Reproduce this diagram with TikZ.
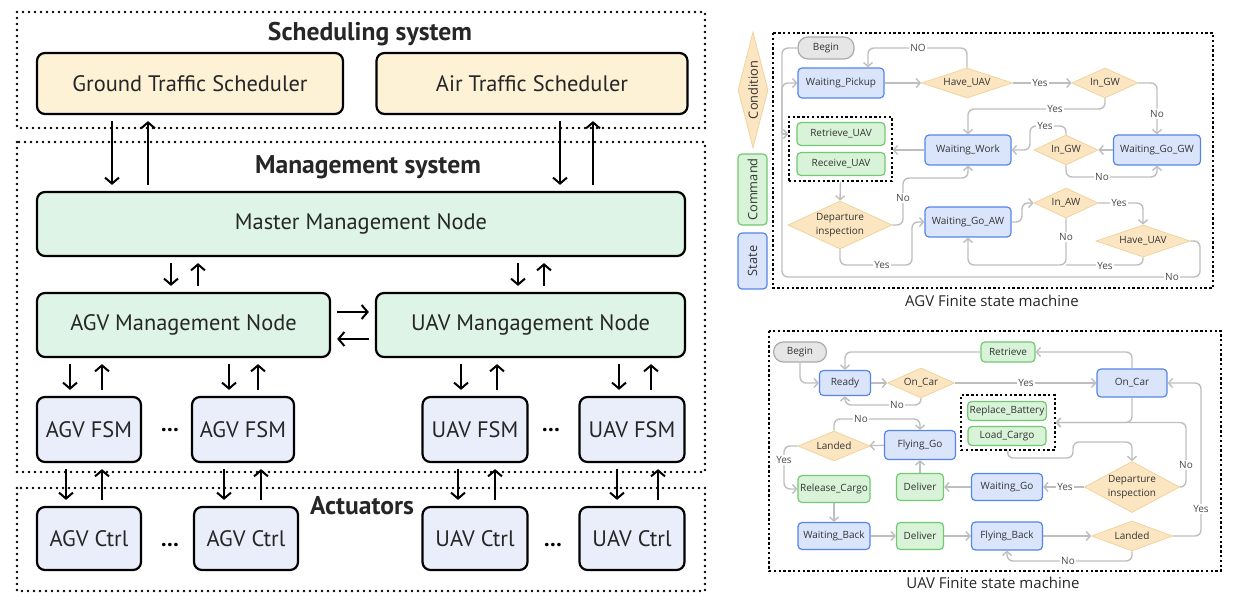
\documentclass[tikz,border=0pt]{standalone}
\usepackage{fontspec}
\setmainfont{PT Sans}
\newfontfamily\fsmfont{Open Sans}
\usetikzlibrary{
    arrows.meta,        % arrow tips
    shapes.geometric    % diamonds of the conditions
}
\newcommand{\boxfont}{\fontsize{11.2}{13}\selectfont}
\newcommand{\titlefont}{\bfseries\fontsize{12.8}{14}\selectfont}
\newcommand{\fsmtext}{\fsmfont\fontsize{5}{7}\selectfont}

\definecolor{schedfill}{HTML}{FDF1D6}
\definecolor{mgmtfill}{HTML}{DDF4E6}
\definecolor{unitfill}{HTML}{EAEEFB}
\definecolor{statefill}{HTML}{DAE5FC}
\definecolor{stateline}{HTML}{5585E8}
\definecolor{cmdfill}{HTML}{D8F3D8}
\definecolor{cmdline}{HTML}{71C971}
\definecolor{condfill}{HTML}{FCE6C2}
\definecolor{condline}{HTML}{F0D39E}
\definecolor{begfill}{HTML}{E6E6E6}
\definecolor{begline}{HTML}{ABABAB}
\definecolor{flowgray}{HTML}{BEBEBE}
\definecolor{labelgray}{HTML}{4A4A4A}

\tikzset{
    layer frame/.style={line width=1.4pt, line cap=round, dash pattern=on 0pt off 3pt},
    layer title/.style={font=\titlefont, text=black!85, inner sep=1pt},
    sched box/.style={draw, line width=1.1pt, rounded corners=4pt, fill=schedfill, font=\boxfont, text=black!85},
    mgmt box/.style={sched box, fill=mgmtfill},
    unit box/.style={sched box, fill=unitfill},
    dots/.style={font=\boxfont\bfseries, inner sep=0pt},
    bus arrow/.style={line width=1pt, -{Straight Barb[length=3pt,width=7pt]}, shorten <=3pt, shorten >=3pt},
    fsm state/.style={draw=stateline, fill=statefill, line width=0.6pt, rounded corners=2pt, inner sep=1pt, font=\fsmtext, text=black!80},
    fsm command/.style={fsm state, draw=cmdline, fill=cmdfill},
    fsm begin/.style={fsm state, draw=begline, fill=begfill, rounded corners=5pt},
    fsm condition/.style={diamond, aspect=3, draw=condline, fill=condfill, line width=0.4pt, inner sep=0pt, font=\fsmtext, text=black!80, align=center},
    fsm legend/.style={rotate=90, inner sep=0pt, font=\fsmfont\fontsize{6.4}{7}\selectfont},
    cmd group/.style={draw, line width=0.7pt, dash pattern=on 1.2pt off 1.2pt},
    fsm frame/.style={line width=0.6pt, dash pattern=on 1.2pt off 1.2pt},
    fsm caption/.style={font=\fsmfont\fontsize{7.5}{9}\selectfont, text=black!85},
    flow/.style={draw=flowgray, line width=0.7pt, rounded corners=3pt, -{Straight Barb[length=2pt,width=4.5pt]}},
    flow line/.style={flow, -},
    flow label/.style={fill=white, inner sep=0.8pt, font=\fsmtext, text=labelgray}
}

\begin{document}
\begin{tikzpicture}[x=0.5pt, y=-0.5pt]
    \useasboundingbox (0,0) rectangle (1236,608);

    % ---------------- system layers ----------------
    \draw[layer frame] (17,12) rectangle (705,128);
    \draw[layer frame] (17,142) rectangle (705,472);
    \draw[layer frame] (17,488) rectangle (705,591);
    \node[layer title] (tsched) at (370,34) {Scheduling system};
    \node[layer title] (tmgmt) at (368,167) {Management system};
    \node[layer title] (tact) at (362,506) {Actuators};

    \node[sched box, minimum width=153pt, minimum height=30.5pt] (gts) at (190,83.5) {Ground Traffic Scheduler};
    \node[sched box, minimum width=155.5pt, minimum height=30.5pt] (ats) at (532,83.5) {Air Traffic Scheduler};
    \node[mgmt box, minimum width=324pt, minimum height=32pt] (mmn) at (361,224) {Master Management Node};
    \node[mgmt box, minimum width=146.5pt, minimum height=32pt] (agvm) at (183.5,325) {AGV Management Node};
    \node[mgmt box, minimum width=154.5pt, minimum height=32pt] (uavm) at (530.5,325) {UAV Mangagement Node};

    \node[unit box, minimum width=52pt, minimum height=32.5pt] (afsm1) at (89,429.5) {AGV FSM};
    \node[unit box, minimum width=51pt, minimum height=32.5pt] (afsm2) at (243,429.5) {AGV FSM};
    \node[unit box, minimum width=52.5pt, minimum height=32.5pt] (ufsm1) at (475,429.5) {UAV FSM};
    \node[unit box, minimum width=52.5pt, minimum height=32.5pt] (ufsm2) at (632,429.5) {UAV FSM};
    \node[unit box, minimum width=52pt, minimum height=31.5pt] (actl1) at (89,538.5) {AGV Ctrl};
    \node[unit box, minimum width=52pt, minimum height=31.5pt] (actl2) at (246,538.5) {AGV Ctrl};
    \node[unit box, minimum width=52.5pt, minimum height=31.5pt] (uctl1) at (475,538.5) {UAV Ctrl};
    \node[unit box, minimum width=52.5pt, minimum height=31.5pt] (uctl2) at (632,538.5) {UAV Ctrl};
    \node[dots] (dfsmA) at (170,430) {…};
    \node[dots] (dfsmU) at (551,430) {…};
    \node[dots] (dctlA) at (170,545) {…};
    \node[dots] (dctlU) at (553,545) {…};

    \draw[bus arrow] (gts.south -| 112,0) -- (mmn.north -| 112,0);
    \draw[bus arrow] (mmn.north -| 148,0) -- (gts.south -| 148,0);
    \draw[bus arrow] (ats.south -| 560,0) -- (mmn.north -| 560,0);
    \draw[bus arrow] (mmn.north -| 593,0) -- (ats.south -| 593,0);

    \draw[bus arrow] (mmn.south -| 171,0) -- (agvm.north -| 171,0);
    \draw[bus arrow] (agvm.north -| 198,0) -- (mmn.south -| 198,0);
    \draw[bus arrow] (mmn.south -| 518,0) -- (uavm.north -| 518,0);
    \draw[bus arrow] (uavm.north -| 544,0) -- (mmn.south -| 544,0);

    \draw[bus arrow] (agvm.east |- 0,312) -- (uavm.west |- 0,312);
    \draw[bus arrow] (uavm.west |- 0,339) -- (agvm.east |- 0,339);

    \draw[bus arrow] (agvm.south -| 70,0) -- (afsm1.north -| 70,0);
    \draw[bus arrow] (afsm1.north -| 102,0) -- (agvm.south -| 102,0);
    \draw[bus arrow] (agvm.south -| 229,0) -- (afsm2.north -| 229,0);
    \draw[bus arrow] (afsm2.north -| 258,0) -- (agvm.south -| 258,0);
    \draw[bus arrow] (uavm.south -| 461,0) -- (ufsm1.north -| 461,0);
    \draw[bus arrow] (ufsm1.north -| 497,0) -- (uavm.south -| 497,0);
    \draw[bus arrow] (uavm.south -| 619,0) -- (ufsm2.north -| 619,0);
    \draw[bus arrow] (ufsm2.north -| 651,0) -- (uavm.south -| 651,0);

    \draw[bus arrow] (afsm1.south -| 66,0) -- (actl1.north -| 66,0);
    \draw[bus arrow] (actl1.north -| 102,0) -- (afsm1.south -| 102,0);
    \draw[bus arrow] (afsm2.south -| 224,0) -- (actl2.north -| 224,0);
    \draw[bus arrow] (actl2.north -| 261,0) -- (afsm2.south -| 261,0);
    \draw[bus arrow] (ufsm1.south -| 458,0) -- (uctl1.north -| 458,0);
    \draw[bus arrow] (uctl1.north -| 495,0) -- (ufsm1.south -| 495,0);
    \draw[bus arrow] (ufsm2.south -| 617,0) -- (uctl2.north -| 617,0);
    \draw[bus arrow] (uctl2.north -| 658,0) -- (ufsm2.south -| 658,0);

    % ---------------- legend ----------------
    \node[fsm condition, fsm legend, minimum width=58pt, minimum height=15pt] (lcond) at (753,90) {Condition};
    \node[fsm command, fsm legend, minimum width=35.5pt, minimum height=14.5pt] (lcmd) at (752.5,189.5) {Command};
    \node[fsm state, fsm legend, minimum width=28pt, minimum height=14.5pt] (lstate) at (752.5,261) {State};

    % ---------------- AGV finite state machine ----------------
    \draw[fsm frame] (773,33) rectangle (1213,288);
    \node[fsm caption] (capA) at (992,301) {AGV Finite state machine};

    \node[fsm begin, minimum width=28pt, minimum height=11pt] (beginA) at (826,48) {Begin};
    \node[fsm state, minimum width=43pt, minimum height=15pt] (wpick) at (841,83) {Waiting\_Pickup};
    \node[fsm condition, minimum width=45.5pt, minimum height=15pt] (haveA) at (967,83) {Have\_UAV};
    \node[fsm condition, minimum width=33pt, minimum height=15pt] (ingwA) at (1105,83) {In\_GW};
    \node[fsm state, minimum width=43pt, minimum height=15pt] (wwork) at (968,150) {Waiting\_Work};
    \node[fsm condition, minimum width=32pt, minimum height=15pt] (ingwB) at (1066,150) {In\_GW};
    \node[fsm state, minimum width=43.5pt, minimum height=15pt] (wgogw) at (1157,150) {Waiting\_Go\_GW};
    \node[fsm command, minimum width=44pt, minimum height=11.5pt] (retrA) at (841,134) {Retrieve\_UAV};
    \node[fsm command, minimum width=44pt, minimum height=11.5pt] (recvA) at (841,164) {Receive\_UAV};
    \node[cmd group, minimum width=51.5pt, minimum height=32pt] (cmdA) at (840.5,149) {};
    \node[fsm condition, aspect=2, minimum width=52pt, minimum height=24pt] (depA) at (840,225) {Departure\\inspection};
    \node[fsm state, minimum width=43pt, minimum height=15pt] (wgoaw) at (968,222) {Waiting\_Go\_AW};
    \node[fsm condition, minimum width=32pt, minimum height=15pt] (inaw) at (1066,203) {In\_AW};
    \node[fsm condition, minimum width=47pt, minimum height=16pt] (haveB) at (1143,241) {Have\_UAV};
    \coordinate (busA) at (782,134);

    \draw[flow line] (beginA.west) -| (busA);
    \draw[flow] (busA) -- (cmdA.west |- retrA);
    \draw[flow] (haveB.east) -| (1200,277) -| (782,83) -- (wpick.west);
    \draw[flow] (wpick) -- (haveA);
    \draw[flow] (haveA.north) |- (868,48) -- ([xshift=13.5pt]wpick.north);
    \draw[flow] (haveA) -- (ingwA);
    \draw[flow] (ingwA.south) -- (1105,109) -| (wwork.north);
    \draw[flow] (ingwA.east) -| (wgogw.north);
    \draw[flow] (wgogw) -- (ingwB);
    \draw[flow] (ingwB.north) |- (1030,126) |- (wwork.east);
    \draw[flow] (ingwB.south) -- (1066,177) -| (wgogw.south);
    \draw[flow] (wwork) -- (cmdA.east |- wwork);
    \draw[flow] (cmdA.south) -- (depA.north);
    \draw[flow] (depA.east) -| (903,178) -| (wwork.south);
    \draw[flow] (depA.south) |- (912,265) |- (wgoaw.west);
    \draw[flow] (wgoaw.east) -| (1022,203) -- (inaw.west);
    \draw[flow] (inaw.east) -| (haveB.north);
    \draw[flow] (inaw.south) -- (1066,265) -| (wgoaw.south);
    \draw[flow line] (haveB.south) |- (1066,265);

    \node[flow label] (lnA1) at (918,48) {NO};
    \node[flow label] (lnA2) at (1040,83) {Yes};
    \node[flow label] (lnA3) at (1055,109) {Yes};
    \node[flow label] (lnA4) at (1157,114) {No};
    \node[flow label] (lnA5) at (1045,126) {Yes};
    \node[flow label] (lnA6) at (1102,177) {No};
    \node[flow label] (lnA7) at (903,198) {No};
    \node[flow label] (lnA8) at (882,265) {Yes};
    \node[flow label] (lnA9) at (1119,203) {Yes};
    \node[flow label] (lnA10) at (1066,237) {No};
    \node[flow label] (lnA11) at (1105,266) {Yes};
    \node[flow label] (lnA12) at (1172,277) {No};

    % ---------------- UAV finite state machine ----------------
    \draw[fsm frame] (769,331) rectangle (1221,571);
    \node[fsm caption] (capB) at (993,583) {UAV Finite state machine};

    \node[fsm begin, minimum width=26.5pt, minimum height=10pt] (beginB) at (800,352) {Begin};
    \node[fsm state, minimum width=25.5pt, minimum height=12.5pt] (ready) at (845,383) {Ready};
    \node[fsm condition, minimum width=33.5pt, minimum height=15pt] (oncarC) at (921,383) {On\_Car};
    \node[fsm command, minimum width=27pt, minimum height=10pt] (retrB) at (1008,352) {Retrieve};
    \node[fsm state, minimum width=35pt, minimum height=14pt] (oncar) at (1132,383) {On\_Car};
    \node[fsm command, minimum width=39pt, minimum height=9.5pt] (repl) at (1007,411) {Replace\_Battery};
    \node[fsm command, minimum width=39pt, minimum height=9.5pt] (load) at (1007,436) {Load\_Cargo};
    \node[cmd group, minimum width=47pt, minimum height=27.5pt] (cmdB) at (1008,422.5) {};
    \node[fsm condition, minimum width=36pt, minimum height=15pt] (landA) at (834,446) {Landed};
    \node[fsm state, minimum width=35.5pt, minimum height=14.5pt] (flygo) at (920,445) {Flying\_Go};
    \node[fsm condition, aspect=2, minimum width=46pt, minimum height=25.5pt] (depB) at (1132,487) {Departure\\inspection};
    \node[fsm state, minimum width=35.5pt, minimum height=13.5pt] (wgo) at (1007,487) {Waiting\_Go};
    \node[fsm command, minimum width=23.5pt, minimum height=13.5pt] (delvA) at (920,487) {Deliver};
    \node[fsm command, minimum width=36pt, minimum height=13.5pt] (relc) at (834,489) {Release\_Cargo};
    \node[fsm state, minimum width=36pt, minimum height=13.5pt] (wback) at (834,536) {Waiting\_Back};
    \node[fsm command, minimum width=23.5pt, minimum height=13.5pt] (delvB) at (920,536) {Deliver};
    \node[fsm state, minimum width=35.5pt, minimum height=14pt] (flyb) at (1007,536) {Flying\_Back};
    \node[fsm condition, minimum width=40.5pt, minimum height=15pt] (landB) at (1132,536) {Landed};

    \draw[flow] (beginB.south) |- (ready.west);
    \draw[flow] (ready) -- (oncarC);
    \draw[flow] (oncarC.south) -- (921,405) -| (ready.south);
    \draw[flow] (oncarC) -- (oncar);
    \draw[flow] (oncar.north) |- (retrB.east);
    \draw[flow] (retrB.west) -| (ready.north);
    \draw[flow] (oncar.south) |- (cmdB.east);
    \draw[flow] (depB.east) -| (1186,422.5) -- (cmdB.east);
    \draw[flow] (cmdB.south) -- (1007,458) -| (1073,442) -| (depB.north);
    \draw[flow] (depB) -- (wgo);
    \draw[flow] (wgo) -- (delvA);
    \draw[flow] (delvA) -- (flygo);
    \draw[flow] (flygo) -- (landA);
    \draw[flow] (landA.north) -- (834,419) -| (flygo.north);
    \draw[flow] (landA.west) -| (784,489) -- (relc.west);
    \draw[flow] (relc) -- (wback);
    \draw[flow] (wback) -- (delvB);
    \draw[flow] (delvB) -- (flyb);
    \draw[flow] (flyb) -- (landB);
    \draw[flow] (landB.south) -- (1132,561) -| (flyb.south);
    \draw[flow] (landB.east) -| (1201,383) -- (oncar.east);

    \node[flow label] (lnB1) at (897,405) {No};
    \node[flow label] (lnB2) at (1026,383) {Yes};
    \node[flow label] (lnB3) at (1186,465) {No};
    \node[flow label] (lnB4) at (1065,487) {Yes};
    \node[flow label] (lnB5) at (861,419) {No};
    \node[flow label] (lnB6) at (784,460) {Yes};
    \node[flow label] (lnB7) at (1068,561) {No};
    \node[flow label] (lnB8) at (1201,509) {Yes};
\end{tikzpicture}
\end{document}
